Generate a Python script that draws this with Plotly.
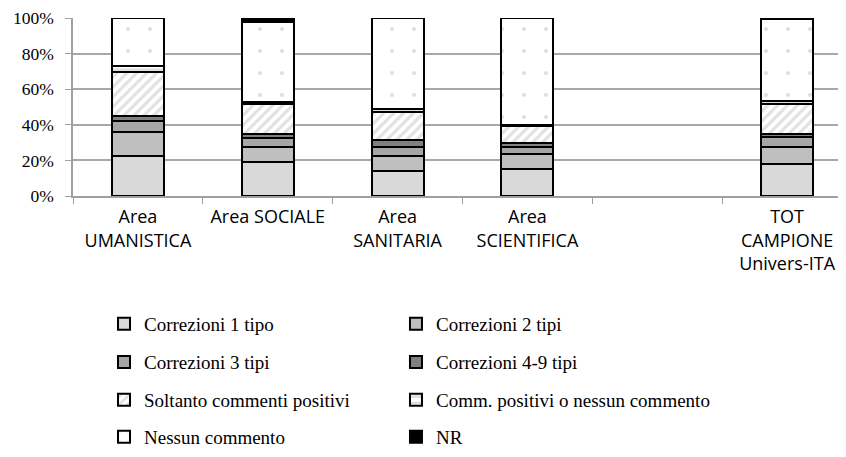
import plotly.graph_objects as go

categories = ["Area<br>UMANISTICA", "Area SOCIALE", "Area<br>SANITARIA", "Area<br>SCIENTIFICA", " ", "TOT<br>CAMPIONE<br>Univers-ITA"]

series_names = [
    "Correzioni 1 tipo", "Correzioni 2 tipi", "Correzioni 3 tipi", "Correzioni 4-9 tipi",
    "Soltanto commenti positivi", "Comm. positivi o nessun commento", "Nessun commento", "NR",
]

corr1 = [22.2, 19.3, 14.3, 14.9, None, 17.7]
corr2 = [13.7, 8.3, 8.3, 8.8, None, 10.0]
corr3 = [6.0, 5.1, 5.1, 3.9, None, 5.4]
corr49 = [3.3, 1.9, 3.6, 2.4, None, 1.8]
solo_pos = [24.3, 16.9, 16.1, 9.2, None, 16.6]
pos_o_nessuno = [3.3, 1.5, 1.2, 0.8, None, 1.8]
nessuno = [27.2, 45.0, 51.4, 60.0, None, 46.2]
nr = [0.0, 2.0, 0.0, 0.0, None, 0.5]

values = [corr1, corr2, corr3, corr49, solo_pos, pos_o_nessuno, nessuno, nr]

styles = [
    dict(color="#d9d9d9"),
    dict(color="#bfbfbf"),
    dict(color="#a6a6a6"),
    dict(color="#808080"),
    dict(color="white", pattern=dict(shape="/", fgcolor="#c4c4c4", bgcolor="white", size=7, solidity=0.45)),
    dict(color="white", pattern=dict(shape="-", fgcolor="#bdbdbd", bgcolor="white", size=8, solidity=0.4)),
    dict(color="white", pattern=dict(shape=".", fgcolor="#bbbbbb", bgcolor="white", size=22, solidity=0.025)),
    dict(color="black"),
]

legend_ids = ["legend", "legend2", "legend3", "legend4", "legend5", "legend6", "legend7", "legend8"]

fig = go.Figure()
for name, vals, st, lg in zip(series_names, values, styles, legend_ids):
    marker = dict(color=st["color"], line=dict(color="black", width=2))
    if "pattern" in st:
        marker["pattern"] = st["pattern"]
    fig.add_trace(go.Bar(x=categories, y=vals, name=name, marker=marker, width=0.4,
                         legend=lg, showlegend=True))

serif = "Liberation Serif, Times New Roman, serif"
row_y = [-0.719, -0.933, -1.146, -1.354]
col_x = [0.0398, 0.4146]
leg_common = dict(xanchor="left", yanchor="middle",
                  font=dict(family=serif, size=19, color="black"),
                  bgcolor="rgba(0,0,0,0)", itemwidth=30, visible=True)

legends = {}
for i, lg in enumerate(legend_ids):
    legends[lg] = dict(x=col_x[i % 2], y=row_y[i // 2], **leg_common)

fig.update_layout(
    width=846, height=457,
    barmode="stack",
    showlegend=True,
    plot_bgcolor="white", paper_bgcolor="white",
    margin=dict(l=65, r=2, t=10, b=269, autoexpand=False),
    **legends,
)

fig.update_xaxes(
    type="category", categoryorder="array", categoryarray=categories,
    tickson="boundaries", ticks="outside", ticklen=6, tickcolor="#a0a0a0",
    showline=True, linecolor="#a0a0a0", linewidth=1.5,
    tickfont=dict(family="Open Sans", size=18, color="black"),
    ticklabelstandoff=4, ticklabeloverflow="allow",
    showgrid=False,
)
fig.update_yaxes(
    range=[0, 100], dtick=20, ticksuffix="%",
    ticks="outside", ticklen=6, tickcolor="#a0a0a0",
    showline=True, linecolor="#a0a0a0", linewidth=1.5,
    showgrid=True, gridcolor="#a8a8a8", gridwidth=1.5,
    tickfont=dict(family=serif, size=17.5, color="black"),
    ticklabelstandoff=8, ticklabeloverflow="allow",
    zeroline=False,
)

fig.write_html("out.html")
